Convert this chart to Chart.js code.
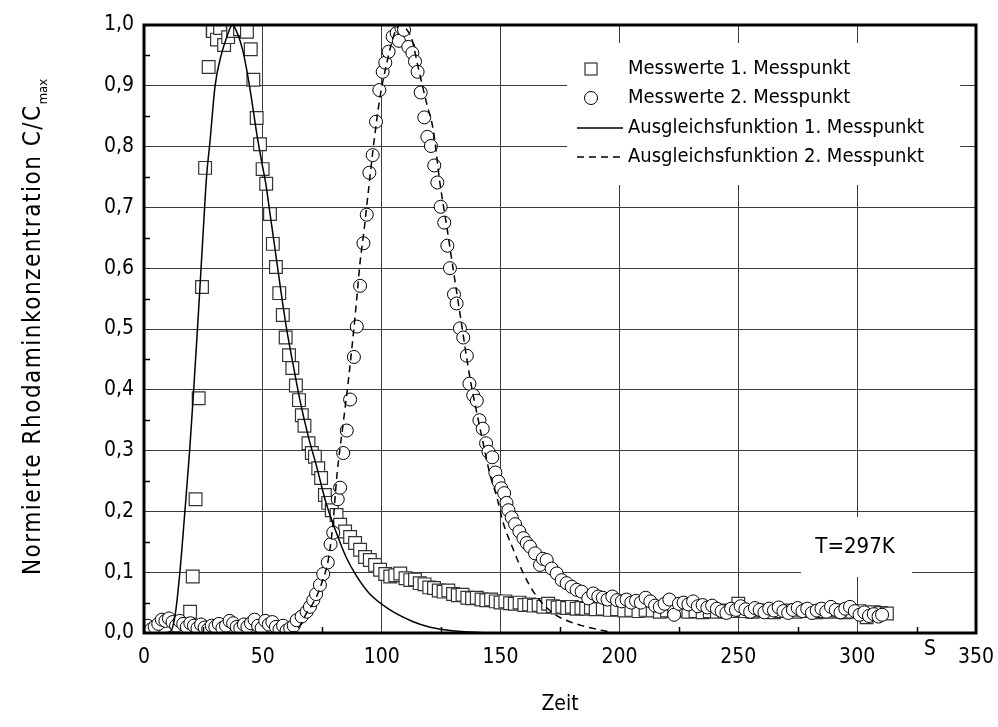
<!DOCTYPE html>
<html>
<head>
<meta charset="utf-8">
<script src="https://cdn.jsdelivr.net/npm/chart.js@4/dist/chart.umd.min.js"></script>
<style>
  html, body { margin: 0; padding: 0; background: #fff; }
  #wrap { width: 998px; height: 727px; }
</style>
</head>
<body>
<div id="wrap"><canvas id="rhodChart" width="998" height="727"></canvas></div>
<script>
// === Daten ===
const xTickLabels = ['0', '50', '100', '150', '200', '250', '300', '350'];
const yTickLabels = ['0,0', '0,1', '0,2', '0,3', '0,4', '0,5', '0,6', '0,7', '0,8', '0,9', '1,0'];
const legendLabels = [
    'Messwerte 1. Messpunkt',
    'Messwerte 2. Messpunkt',
    'Ausgleichsfunktion 1. Messpunkt',
    'Ausgleichsfunktion 2. Messpunkt'
];

// Messwerte 1. Messpunkt (Quadrate)
const mess1Zeit = [19.4, 20.5, 21.7, 23.0, 24.4, 25.7, 27.2, 28.9, 29.0, 30.7, 32.0, 33.7, 35.4, 37.5, 40.4, 43.3, 44.9, 46.0,
    47.4, 48.8, 49.9, 51.4, 53.0, 54.2, 55.5, 56.9, 58.4, 59.6, 61.0, 62.4, 63.9, 65.2, 66.4, 67.5, 69.2, 70.6, 71.9,
    73.3, 74.5, 76.1, 77.5, 79.0, 81.0, 82.5, 84.6, 86.7, 88.8, 90.9, 93.0, 95.0, 97.2, 99.3, 101.5, 103.6, 105.7,
    107.8, 110, 112, 114, 116, 118, 120, 122, 124, 126, 128, 130, 132, 134, 136, 138, 140, 142, 144, 146, 148, 150,
    152, 154, 156, 158, 160, 162, 164, 166, 168, 170, 172, 174, 176, 178, 180, 182, 184, 186, 188, 190, 193, 196,
    199, 202, 205, 208, 211, 214, 217, 220, 223, 226, 229, 232, 235, 238, 241, 244, 247, 250, 253, 256, 259, 262,
    265, 268, 271, 274, 277, 280, 283, 286, 289, 292, 295, 298, 301, 304, 307, 310, 312.5];
const mess1Wert = [0.035, 0.093, 0.22, 0.386, 0.569, 0.765, 0.931, 0.992, 0.99, 0.976, 0.995, 0.967, 0.98, 0.99, 0.993, 0.989, 0.96, 0.91,
    0.847, 0.804, 0.763, 0.739, 0.689, 0.64, 0.602, 0.559, 0.523, 0.486, 0.457, 0.436, 0.407, 0.383, 0.358, 0.341, 0.312, 0.296, 0.29,
    0.271, 0.255, 0.227, 0.214, 0.202, 0.194, 0.178, 0.167, 0.158, 0.148, 0.137, 0.125, 0.12, 0.112, 0.104, 0.097, 0.093, 0.095,
    0.098, 0.09, 0.087, 0.088, 0.082, 0.08, 0.075, 0.074, 0.07, 0.068, 0.07, 0.064, 0.062, 0.063, 0.058, 0.057, 0.058, 0.055, 0.054, 0.055, 0.052, 0.05,
    0.052, 0.049, 0.048, 0.05, 0.046, 0.047, 0.045, 0.046, 0.043, 0.048, 0.044, 0.042, 0.043, 0.041, 0.043, 0.04, 0.041, 0.04, 0.042, 0.039, 0.04, 0.038,
    0.039, 0.037, 0.038, 0.036, 0.038, 0.037, 0.035, 0.037, 0.036, 0.038, 0.035, 0.036, 0.034, 0.036, 0.035, 0.037, 0.036, 0.048, 0.036, 0.035, 0.037, 0.036,
    0.034, 0.036, 0.037, 0.035, 0.038, 0.036, 0.034, 0.036, 0.035, 0.037, 0.034, 0.035, 0.036, 0.026, 0.034, 0.033, 0.032];

// Messwerte 2. Messpunkt (Kreise)
const mess2Zeit = [0, 1.5, 3, 4.5, 6, 7.5, 9, 10.5, 12, 13.5, 15, 16.5, 18, 19.5, 21, 22.5, 24, 25.5, 27, 28.5, 30, 31.5, 33,
    34.5, 36, 37.5, 39, 40.5, 42, 43.5, 45, 46.5, 48, 49.5, 51, 52.5, 54, 55.5, 57, 58.5, 60, 61.5, 63, 64.2, 66.3, 68.4,
    69.8, 71.2, 72.4, 74, 75.4, 77.3, 78.5, 79.6, 81.5, 82.5, 83.8, 85.3, 86.7, 88.3, 89.5, 90.9, 92.3, 93.7, 94.8, 96.2,
    97.6, 99, 100.4, 101.5, 102.9, 104.6, 106.3, 107.2, 108.3, 109.4, 111.2, 112.9, 114, 115.1, 116.4, 117.9, 119.2, 120.7,
    122.1, 123.4, 124.8, 126.3, 127.6, 128.7, 130.4, 131.5, 132.9, 134.3, 135.8, 136.9, 138.5, 140, 141.1, 142.5, 143.9,
    144.9, 146.5, 147.8, 149.1, 150.3, 151.5, 152.5, 153.3, 154.7, 156.1, 157.9, 159.6, 161, 162.4, 164.5, 166.6, 167.8,
    169.4, 171.5, 173.6, 175.7, 177.8, 179.9, 182, 184.1, 186.9, 189, 191.1, 193, 195, 197, 199, 201, 203, 205, 207, 209,
    211, 213, 215, 217, 219, 221, 223, 225, 227, 229, 231, 233, 235, 237, 239, 241, 243, 245, 247, 249, 251, 253, 255, 257,
    259, 261, 263, 265, 267, 269, 271, 273, 275, 277, 279, 281, 283, 285, 287, 289, 291, 293, 295, 297, 299, 301, 303, 305,
    307, 309, 310.5];
const mess2Wert = [0.008, 0.012, 0.006, 0.01, 0.015, 0.022, 0.02, 0.024, 0.018, 0.012, 0.02, 0.015, 0.01, 0.016, 0.012, 0.008, 0.014, 0.009, 0.006, 0.012, 0.01, 0.015, 0.008,
    0.012, 0.02, 0.016, 0.01, 0.008, 0.014, 0.01, 0.016, 0.022, 0.012, 0.008, 0.02, 0.014, 0.018, 0.01, 0.006, 0.012, 0.004, 0.008, 0.012, 0.021, 0.027, 0.035,
    0.043, 0.054, 0.064, 0.079, 0.097, 0.116, 0.146, 0.165, 0.22, 0.239, 0.296, 0.333, 0.384, 0.454, 0.504, 0.571, 0.641, 0.688, 0.757, 0.786,
    0.841, 0.893, 0.923, 0.938, 0.956, 0.981, 0.987, 0.974, 0.995, 0.992, 0.964, 0.954, 0.94, 0.923, 0.889, 0.848, 0.816, 0.801,
    0.769, 0.741, 0.701, 0.675, 0.637, 0.6, 0.557, 0.542, 0.501, 0.486, 0.456, 0.41, 0.391, 0.382, 0.35, 0.336, 0.312,
    0.298, 0.289, 0.264, 0.249, 0.238, 0.23, 0.214, 0.202, 0.19, 0.179, 0.167, 0.156, 0.148, 0.142, 0.131, 0.112, 0.122,
    0.12, 0.106, 0.098, 0.087, 0.082, 0.076, 0.071, 0.068, 0.057, 0.065, 0.06, 0.058, 0.055, 0.06, 0.054, 0.052, 0.055, 0.05, 0.053, 0.05,
    0.058, 0.052, 0.045, 0.043, 0.048, 0.055, 0.03, 0.048, 0.05, 0.047, 0.052, 0.044, 0.046, 0.042, 0.045, 0.04, 0.036, 0.033, 0.04, 0.038, 0.044, 0.039, 0.035, 0.041,
    0.038, 0.034, 0.04, 0.037, 0.042, 0.036, 0.033, 0.038, 0.041, 0.036, 0.04, 0.033, 0.037, 0.04, 0.035, 0.043, 0.038, 0.034, 0.04, 0.043, 0.036, 0.03, 0.034, 0.028,
    0.031, 0.027, 0.03];

// Ausgleichsfunktion 1. Messpunkt (durchgezogen)
const fit1Zeit = [0, 8, 11, 13, 15.1, 17.2, 19.2, 20.9, 22.5, 24, 25.2, 26.3, 27.8, 29.9, 32.3, 34.8, 37.2, 39.3, 41.5, 43.5,
    45.3, 47.4, 49.5, 51.2, 53, 55, 57.5, 60, 62.8, 65.6, 69, 72.6, 76.5, 81, 85, 89.5, 95, 103.5, 113, 120, 127, 135, 151, 200, 310];
const fit1Wert = [0, 0, 0.002, 0.027, 0.1, 0.2, 0.3, 0.4, 0.5, 0.6, 0.68, 0.75, 0.81, 0.9, 0.948, 0.98, 1.0, 0.986, 0.959, 0.92,
    0.877, 0.822, 0.775, 0.74, 0.69, 0.635, 0.565, 0.5, 0.44, 0.383, 0.325, 0.274, 0.215, 0.164, 0.125, 0.093, 0.064, 0.038, 0.019, 0.01, 0.005, 0.002, 0, 0, 0];

// Ausgleichsfunktion 2. Messpunkt (gestrichelt)
const fit2Zeit = [0, 60, 64.2, 66.5, 68.4, 70.5, 72.6, 75, 77.5, 79.5, 81.1, 83.8, 86, 89.2, 90.9, 92.5, 94.2, 96.5, 99.3, 102.4,
    104.5, 106.3, 107.8, 109.5, 111, 112.6, 115.3, 118.9, 121.7, 124.5, 127.5, 130, 132.9, 137.1, 140, 142.8, 145.6, 148.4,
    151.2, 155.4, 159.6, 165.2, 172, 177.5, 183.4, 191.8, 200, 310];
const fit2Wert = [0, 0, 0.005, 0.018, 0.033, 0.045, 0.06, 0.085, 0.12, 0.18, 0.257, 0.345, 0.416, 0.537, 0.61, 0.66, 0.72, 0.8, 0.882, 0.942,
    0.975, 0.995, 1.0, 0.997, 0.99, 0.978, 0.931, 0.871, 0.827, 0.74, 0.665, 0.6, 0.526, 0.42, 0.362, 0.31, 0.26, 0.224,
    0.18, 0.137, 0.098, 0.06, 0.033, 0.021, 0.013, 0.005, 0, 0];

const FONT = '"DejaVu Sans Condensed", "DejaVu Sans", sans-serif';
const toXY = (xs, ys) => xs.map((x, i) => ({ x: x, y: ys[i] }));

// Rahmen, Nebenteilstriche, Legende, Beschriftungen
const decorPlugin = {
    id: 'decor',
    beforeDatasetsDraw(chart) {
        const ctx = chart.ctx;
        ctx.save();
        ctx.fillStyle = '#fff';
        ctx.fillRect(567, 43, 393, 142);   // Legendenfeld
        ctx.fillRect(801, 517, 111, 60);   // T=297K
        ctx.restore();
    },
    afterDraw(chart) {
        const ctx = chart.ctx;
        const a = chart.chartArea;
        const xs = chart.scales.x, ys = chart.scales.y;
        ctx.save();

        // Nebenteilstriche
        ctx.strokeStyle = '#000';
        ctx.lineWidth = 1.5;
        ctx.beginPath();
        for (let v = 25; v < 350; v += 50) {
            const px = Math.round(xs.getPixelForValue(v)) + 0.5;
            ctx.moveTo(px, a.bottom); ctx.lineTo(px, a.bottom - 6);
        }
        for (let v = 0.05; v < 1; v += 0.1) {
            const py = Math.round(ys.getPixelForValue(v)) + 0.5;
            ctx.moveTo(a.left, py); ctx.lineTo(a.left + 6, py);
        }
        ctx.stroke();

        // Rahmen
        ctx.lineWidth = 3;
        ctx.strokeRect(a.left, a.top, a.right - a.left, a.bottom - a.top);

        // Legende
        ctx.font = '20px ' + FONT;
        ctx.fillStyle = '#000';
        ctx.textAlign = 'left';
        ctx.textBaseline = 'middle';
        const rows = [69, 98, 128, 157];
        legendLabels.forEach((t, i) => ctx.fillText(t, 628, rows[i]));
        ctx.lineWidth = 1.2;
        ctx.strokeStyle = '#333';
        ctx.fillStyle = '#fff';
        ctx.fillRect(585, rows[0] - 6, 12, 12);
        ctx.strokeRect(585, rows[0] - 6, 12, 12);
        ctx.strokeStyle = '#000';
        ctx.lineWidth = 1;
        ctx.beginPath();
        ctx.arc(591, rows[1], 6.5, 0, Math.PI * 2);
        ctx.fill(); ctx.stroke();
        ctx.lineWidth = 1.5;
        ctx.beginPath();
        ctx.moveTo(577, rows[2]); ctx.lineTo(623, rows[2]);
        ctx.stroke();
        ctx.setLineDash([7, 5]);
        ctx.beginPath();
        ctx.moveTo(577, rows[3]); ctx.lineTo(623, rows[3]);
        ctx.stroke();
        ctx.setLineDash([]);

        // T=297K und Einheit
        ctx.fillStyle = '#000';
        ctx.textAlign = 'center';
        ctx.font = '22px ' + FONT;
        ctx.fillText('T=297K', 855, 547);
        ctx.font = '21px ' + FONT;
        ctx.fillText('S', 930, 650);

        // y-Achsentitel mit Index
        ctx.translate(34, 327);
        ctx.rotate(-Math.PI / 2);
        const main = 'Normierte Rhodaminkonzentration C/C';
        ctx.letterSpacing = '1.5px';
        ctx.font = '24px ' + FONT;
        const wMain = ctx.measureText(main).width;
        ctx.letterSpacing = '0px';
        ctx.font = '13px ' + FONT;
        const wSub = ctx.measureText('max').width;
        const x0 = -(wMain + wSub) / 2;
        ctx.textAlign = 'left';
        ctx.letterSpacing = '1.5px';
        ctx.font = '24px ' + FONT;
        ctx.fillText(main, x0, 0);
        ctx.letterSpacing = '0px';
        ctx.font = '13px ' + FONT;
        ctx.fillText('max', x0 + wMain, 10);
        ctx.restore();
    }
};

new Chart(document.getElementById('rhodChart'), {
    type: 'scatter',
    data: {
        datasets: [
            {
                type: 'line', label: legendLabels[2], data: toXY(fit1Zeit, fit1Wert),
                borderColor: '#000', borderWidth: 1.5, pointRadius: 0, fill: false,
                cubicInterpolationMode: 'monotone', clip: 0, order: 0
            },
            {
                type: 'line', label: legendLabels[3], data: toXY(fit2Zeit, fit2Wert),
                borderColor: '#000', borderWidth: 1.5, borderDash: [7, 5], pointRadius: 0, fill: false,
                cubicInterpolationMode: 'monotone', clip: 0, order: 1
            },
            {
                label: legendLabels[1], data: toXY(mess2Zeit, mess2Wert),
                pointStyle: 'circle', pointRadius: 6.5, borderWidth: 1,
                borderColor: '#000', backgroundColor: '#fff', clip: 0, order: 2
            },
            {
                label: legendLabels[0], data: toXY(mess1Zeit, mess1Wert),
                pointStyle: 'rect', pointRadius: 9, borderWidth: 1.2,
                borderColor: '#333', backgroundColor: '#fff', clip: 0, order: 3
            }
        ]
    },
    options: {
        responsive: false,
        animation: false,
        layout: { padding: { top: 25, right: 22, left: 0, bottom: 0 } },
        plugins: { legend: { display: false }, tooltip: { enabled: false } },
        scales: {
            x: {
                type: 'linear', min: 0, max: 350,
                afterFit: (s) => { s.height = 94; s.paddingRight = 0; s.paddingLeft = 0; },
                ticks: {
                    stepSize: 50, color: '#000', padding: 12,
                    font: { family: FONT, size: 21 },
                    callback: (v) => xTickLabels[Math.round(v / 50)]
                },
                grid: { color: '#3a3a3a', lineWidth: 1, drawTicks: false },
                border: { display: false },
                title: { display: true, text: 'Zeit', color: '#000', font: { family: FONT, size: 21 }, padding: { top: 0, bottom: 10 } }
            },
            y: {
                type: 'linear', min: 0, max: 1,
                afterFit: (s) => { s.width = 144; s.paddingTop = 0; s.paddingBottom = 0; },
                ticks: {
                    stepSize: 0.1, color: '#000', padding: 10,
                    font: { family: FONT, size: 21 },
                    callback: (v) => yTickLabels[Math.round(v * 10)]
                },
                grid: { color: '#3a3a3a', lineWidth: 1, drawTicks: false },
                border: { display: false }
            }
        }
    },
    plugins: [decorPlugin]
});
</script>
</body>
</html>
